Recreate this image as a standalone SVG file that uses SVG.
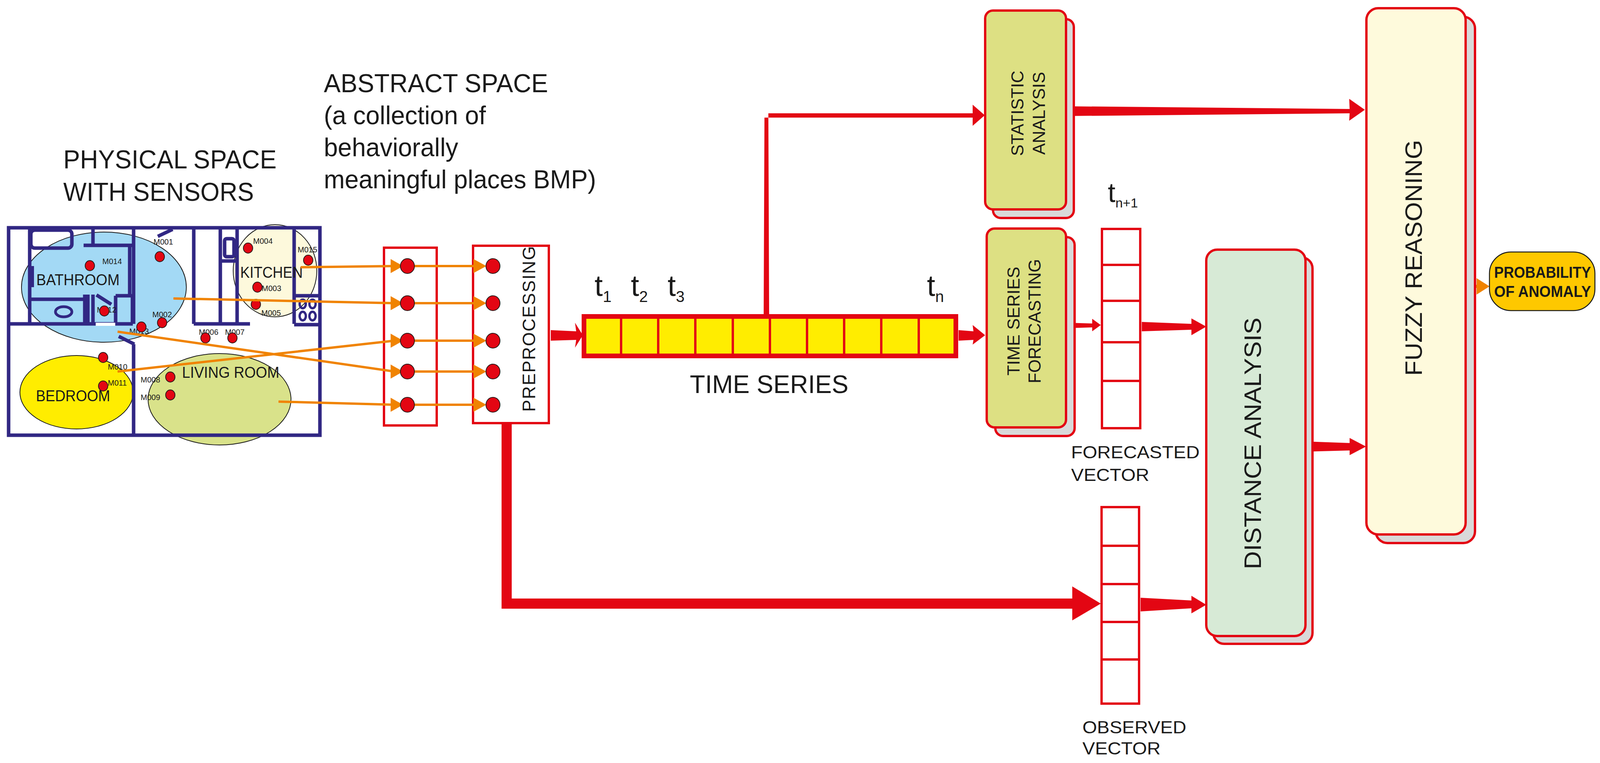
<svg xmlns="http://www.w3.org/2000/svg" width="4198" height="1953" viewBox="0 0 4198 1953">
<style>
.wall{stroke:#312783;stroke-width:9;fill:none}
.dot{fill:#e30613;stroke:#2a1a1a;stroke-width:2}
.lbl{font-family:"Liberation Sans",Arial,sans-serif;fill:#1a1a1a}
.sn{font-family:"Liberation Sans",Arial,sans-serif;font-size:20px;fill:#1a1a1a}
.ol{stroke:#f08300;stroke-width:6;fill:none}
.oh{fill:#f08300}
.rd{fill:#e30613}
.box{stroke:#e30613;stroke-width:6}
.cell{fill:#fff;stroke:#e30613;stroke-width:6}
</style>
<rect width="4198" height="1953" fill="#fff"/>

<g id="headings">
<text class="lbl" font-size="66" x="162" y="431" textLength="546" lengthAdjust="spacingAndGlyphs">PHYSICAL SPACE</text>
<text class="lbl" font-size="66" x="162" y="514" textLength="488" lengthAdjust="spacingAndGlyphs">WITH SENSORS</text>
<text class="lbl" font-size="66" x="829" y="236" textLength="574" lengthAdjust="spacingAndGlyphs">ABSTRACT SPACE</text>
<text class="lbl" font-size="66" x="829" y="318" textLength="415" lengthAdjust="spacingAndGlyphs">(a collection of</text>
<text class="lbl" font-size="66" x="829" y="400" textLength="344" lengthAdjust="spacingAndGlyphs">behaviorally</text>
<text class="lbl" font-size="66" x="829" y="482" textLength="697" lengthAdjust="spacingAndGlyphs">meaningful places BMP)</text>
</g>

<g id="floorplan">
<ellipse cx="266" cy="735" rx="211" ry="141" fill="#a3d9f5" stroke="#1a1a1a" stroke-width="2"/>
<ellipse cx="704" cy="693" rx="107" ry="118" fill="#fdf9dc" stroke="#1a1a1a" stroke-width="2"/>
<ellipse cx="196" cy="1004" rx="145" ry="94" fill="#ffed00" stroke="#1a1a1a" stroke-width="2"/>
<ellipse cx="562" cy="1022" rx="183" ry="117" fill="#d9e28a" stroke="#1a1a1a" stroke-width="2"/>
<rect class="wall" x="22" y="583" width="797" height="531"/>
<path class="wall" d="M22 829H340M342 587V829M342 881V1112M304 861L344 881M76 587V829M238 587V628M214 628H339M332 628V757M76 766H214M217 754V829M225 754V829M238 754V829M296 757H339V829M296 757V829M404 605L442 587M247 755L285 779M496 587V829M564 587V829M607 587V829M496 829H640M566 668H607M753 587V829M753 757H821M753 831H821"/>
<rect class="wall" x="79" y="589" width="105" height="46" rx="10"/>
<rect x="79" y="681" width="8" height="54" fill="#312783"/>
<rect class="wall" x="575" y="611" width="24" height="46" rx="5" stroke-width="7"/>
<rect x="245" y="826" width="50" height="8" fill="#fff"/>
<ellipse cx="163" cy="798" rx="21" ry="13" fill="none" stroke="#312783" stroke-width="7"/>
<g fill="none" stroke="#312783" stroke-width="6">
<ellipse cx="775" cy="778" rx="8" ry="11"/><ellipse cx="800" cy="778" rx="8" ry="11"/>
<ellipse cx="775" cy="809" rx="8" ry="11"/><ellipse cx="800" cy="809" rx="8" ry="11"/>
</g>
<text class="lbl" font-size="40" x="93" y="730" textLength="213" lengthAdjust="spacingAndGlyphs">BATHROOM</text>
<text class="lbl" font-size="40" x="615" y="711" textLength="160" lengthAdjust="spacingAndGlyphs">KITCHEN</text>
<text class="lbl" font-size="40" x="466" y="967" textLength="249" lengthAdjust="spacingAndGlyphs">LIVING ROOM</text>
<text class="lbl" font-size="40" x="92" y="1027" textLength="190" lengthAdjust="spacingAndGlyphs">BEDROOM</text>
<text class="sn" x="393" y="626">M001</text>
<text class="sn" x="262" y="676">M014</text>
<text class="sn" x="248" y="800">M012</text>
<text class="sn" x="390" y="812">M002</text>
<text class="sn" x="331" y="855">M013</text>
<text class="sn" x="648" y="624">M004</text>
<text class="sn" x="762" y="646">M015</text>
<text class="sn" x="670" y="745">M003</text>
<text class="sn" x="669" y="808">M005</text>
<text class="sn" x="509" y="857">M006</text>
<text class="sn" x="576" y="857">M007</text>
<text class="sn" x="276" y="946">M010</text>
<text class="sn" x="276" y="987">M011</text>
<text class="sn" x="360" y="979">M008</text>
<text class="sn" x="360" y="1024">M009</text>
<ellipse class="dot" cx="409" cy="657" rx="12" ry="13"/>
<ellipse class="dot" cx="230" cy="680" rx="12" ry="13"/>
<ellipse class="dot" cx="267" cy="796" rx="12" ry="13"/>
<ellipse class="dot" cx="415" cy="826" rx="12" ry="13"/>
<ellipse class="dot" cx="362" cy="837" rx="12" ry="13"/>
<ellipse class="dot" cx="635" cy="635" rx="12" ry="13"/>
<ellipse class="dot" cx="789" cy="666" rx="12" ry="13"/>
<ellipse class="dot" cx="659" cy="735" rx="12" ry="13"/>
<ellipse class="dot" cx="655" cy="779" rx="12" ry="13"/>
<ellipse class="dot" cx="526" cy="865" rx="12" ry="13"/>
<ellipse class="dot" cx="595" cy="865" rx="12" ry="13"/>
<ellipse class="dot" cx="264" cy="915" rx="12" ry="13"/>
<ellipse class="dot" cx="264" cy="988" rx="12" ry="13"/>
<ellipse class="dot" cx="436" cy="965" rx="12" ry="13"/>
<ellipse class="dot" cx="436" cy="1011" rx="12" ry="13"/>
</g>

<g id="bmp">
<rect class="box" x="983" y="634" width="135" height="455" fill="#fff" stroke-width="9"/>
</g>
<g id="preprocessing">
<rect class="box" x="1211" y="629" width="194" height="454" fill="#fff" stroke-width="9"/>
<text class="lbl" font-size="46" transform="translate(1370 1054) rotate(-90)" textLength="424" lengthAdjust="spacing">PREPROCESSING</text>
</g>

<g id="connectors">
<path class="ol" d="M770 684L1010 681M444 764L1010 776M301 951L1010 872M301 849L1010 951M713 1028L1010 1036M1060 681H1225M1060 776H1225M1060 872H1225M1060 951H1225M1060 1036H1225"/>
<g class="oh">
<polygon points="1000,663 1032,681 1000,699"/><polygon points="1000,758 1032,776 1000,794"/>
<polygon points="1000,854 1032,872 1000,890"/><polygon points="1000,933 1032,951 1000,969"/>
<polygon points="1000,1018 1032,1036 1000,1054"/>
<polygon points="1212,663 1245,681 1212,699"/><polygon points="1212,758 1245,776 1212,794"/>
<polygon points="1212,854 1245,872 1212,890"/><polygon points="1212,933 1245,951 1212,969"/>
<polygon points="1212,1018 1245,1036 1212,1054"/>
</g>
<g class="rd">
<polygon points="1410,845 1475,848 1472,826 1492,858 1472,890 1475,870 1410,872"/>
<polygon points="1955,805 1969,805 1967,290 2490,290 2490,268 2521,295 2490,322 2490,301 1957,301"/>
<polygon points="2454,845 2492,848 2490,832 2522,858 2490,882 2492,870 2454,872"/>
<polygon points="2731,272 3455,279 3454,253 3494,281 3454,309 3455,290 2731,297"/>
<polygon points="2731,826 2796,828 2796,816 2818,832 2796,848 2796,838 2731,840"/>
<polygon points="2923,824 3050,829 3050,815 3088,836 3050,858 3050,844 2923,848"/>
<polygon points="3344,1130 3455,1134 3455,1121 3497,1143 3455,1165 3455,1153 3344,1156"/>
<polygon points="1284,1086 1310,1086 1310,1532 2745,1532 2745,1501 2818,1545 2745,1588 2745,1558 1284,1558"/>
<polygon points="2920,1530 3050,1537 3050,1525 3088,1548 3050,1570 3050,1557 2920,1565"/>
</g>
<path d="M3751 733H3785" stroke="#f08300" stroke-width="8"/>
<polygon class="oh" points="3780,712 3813,733 3780,754"/>
</g>

<g id="bmp-dots">
<ellipse class="dot" cx="1043" cy="681" rx="18" ry="19"/><ellipse class="dot" cx="1043" cy="776" rx="18" ry="19"/>
<ellipse class="dot" cx="1043" cy="872" rx="18" ry="19"/><ellipse class="dot" cx="1043" cy="951" rx="18" ry="19"/>
<ellipse class="dot" cx="1043" cy="1036" rx="18" ry="19"/>
<ellipse class="dot" cx="1262" cy="681" rx="18" ry="19"/><ellipse class="dot" cx="1262" cy="776" rx="18" ry="19"/>
<ellipse class="dot" cx="1262" cy="872" rx="18" ry="19"/><ellipse class="dot" cx="1262" cy="951" rx="18" ry="19"/>
<ellipse class="dot" cx="1262" cy="1036" rx="18" ry="19"/>
</g>

<g id="timeseries">
<rect x="1495" y="810" width="952" height="101" fill="#ffed00" stroke="#e30613" stroke-width="12"/>
<path d="M1590 810V911M1685 810V911M1780 810V911M1876 810V911M1971 810V911M2066 810V911M2161 810V911M2256 810V911M2352 810V911" stroke="#e30613" stroke-width="6"/>
<g class="lbl" font-size="76">
<text x="1522" y="757">t<tspan font-size="40" dy="16">1</tspan></text>
<text x="1615" y="757">t<tspan font-size="40" dy="16">2</tspan></text>
<text x="1709" y="757">t<tspan font-size="40" dy="16">3</tspan></text>
<text x="2373" y="757">t<tspan font-size="40" dy="16">n</tspan></text>
</g>
<text class="lbl" font-size="64" x="1766" y="1006" textLength="406" lengthAdjust="spacingAndGlyphs">TIME SERIES</text>
</g>

<g id="statistic">
<rect x="2542" y="49" width="207" height="509" rx="20" fill="#d9d9d9" class="box" stroke-width="5"/>
<rect x="2522" y="27" width="207" height="509" rx="20" fill="#dde083" class="box" stroke-width="5"/>
<text class="lbl" font-size="44" text-anchor="middle" transform="translate(2620 290) rotate(-90)">STATISTIC</text>
<text class="lbl" font-size="44" text-anchor="middle" transform="translate(2675 290) rotate(-90)">ANALYSIS</text>
</g>

<g id="forecasting">
<rect x="2548" y="607" width="203" height="509" rx="20" fill="#d9d9d9" class="box" stroke-width="5"/>
<rect x="2526" y="585" width="203" height="509" rx="20" fill="#dde083" class="box" stroke-width="5"/>
<text class="lbl" font-size="44" text-anchor="middle" transform="translate(2610 822) rotate(-90)">TIME SERIES</text>
<text class="lbl" font-size="44" text-anchor="middle" transform="translate(2664 822) rotate(-90)">FORECASTING</text>
</g>

<g id="forecasted-vector">
<text class="lbl" font-size="70" x="2836" y="517">t<tspan font-size="34" dy="14">n+1</tspan></text>
<rect class="cell" x="2821" y="586" width="98" height="510"/>
<path d="M2821 678H2919M2821 770H2919M2821 876H2919M2821 975H2919" stroke="#e30613" stroke-width="6"/>
<text class="lbl" font-size="44" x="2742" y="1173" textLength="329" lengthAdjust="spacingAndGlyphs">FORECASTED</text>
<text class="lbl" font-size="44" x="2742" y="1231" textLength="200" lengthAdjust="spacingAndGlyphs">VECTOR</text>
</g>

<g id="observed-vector">
<rect class="cell" x="2820" y="1298" width="96" height="503"/>
<path d="M2820 1397H2916M2820 1495H2916M2820 1592H2916M2820 1688H2916" stroke="#e30613" stroke-width="6"/>
<text class="lbl" font-size="44" x="2771" y="1877" textLength="266" lengthAdjust="spacingAndGlyphs">OBSERVED</text>
<text class="lbl" font-size="44" x="2771" y="1931" textLength="200" lengthAdjust="spacingAndGlyphs">VECTOR</text>
</g>

<g id="distance">
<rect x="3106" y="659" width="254" height="989" rx="28" fill="#d9d9d9" class="box" stroke-width="5"/>
<rect x="3088" y="639" width="254" height="989" rx="28" fill="#d7ead6" class="box" stroke-width="5"/>
<text class="lbl" font-size="62" text-anchor="middle" transform="translate(3228 1135) rotate(-90)" textLength="644" lengthAdjust="spacingAndGlyphs">DISTANCE ANALYSIS</text>
</g>

<g id="fuzzy">
<rect x="3522" y="43" width="254" height="1347" rx="30" fill="#d9d9d9" class="box" stroke-width="5"/>
<rect x="3498" y="21" width="254" height="1347" rx="30" fill="#fefadc" class="box" stroke-width="5"/>
<text class="lbl" font-size="62" text-anchor="middle" transform="translate(3640 660) rotate(-90)" textLength="604" lengthAdjust="spacingAndGlyphs">FUZZY REASONING</text>
</g>

<g id="probability">
<rect x="3813" y="645" width="270" height="150" rx="55" fill="#fec800" stroke="#1a1a1a" stroke-width="2.5"/>
<text class="lbl" font-size="40" font-weight="bold" x="3825" y="711" textLength="248" lengthAdjust="spacingAndGlyphs">PROBABILITY</text>
<text class="lbl" font-size="40" font-weight="bold" x="3825" y="760" textLength="248" lengthAdjust="spacingAndGlyphs">OF ANOMALY</text>
</g>
</svg>
